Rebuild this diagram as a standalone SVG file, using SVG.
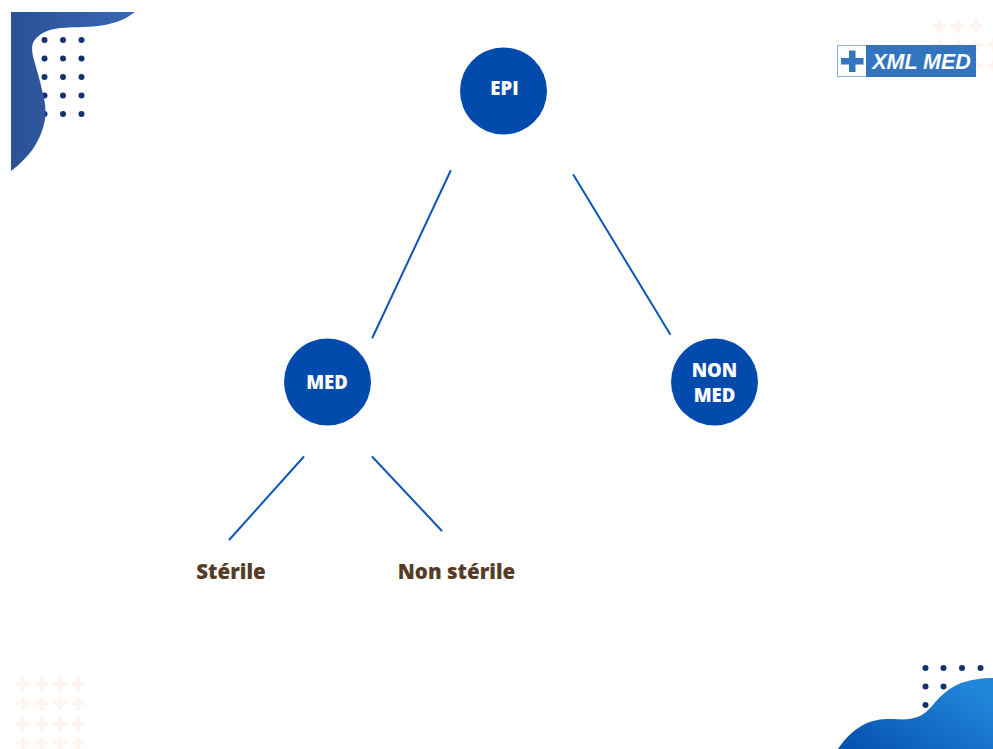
<svg xmlns="http://www.w3.org/2000/svg" width="993" height="749" viewBox="0 0 993 749">
<style>
.node{fill:#034aad}
.nt{font-family:"Open Sans","Noto Sans",sans-serif;font-weight:800;font-size:18.500px;fill:#fff;text-anchor:middle}
.lbl{font-family:"Open Sans","Noto Sans",sans-serif;font-weight:800;font-size:20.500px;fill:#553c27;text-anchor:middle}
.dot{fill:#14306f}
.cross{stroke:#fef3ed;stroke-width:3.500;fill:none}
#connectors line{stroke:#0d55b8;stroke-width:2;stroke-linecap:round}
</style>
<defs>
<linearGradient id="g1" x1="0" y1="0" x2="1" y2="0"><stop offset="0" stop-color="#2b5196"/><stop offset="1" stop-color="#3a68b4"/></linearGradient>
<linearGradient id="g2" x1="0" y1="1" x2="1" y2="0.3"><stop offset="0" stop-color="#0450ae"/><stop offset="1" stop-color="#2186da"/></linearGradient>
<path id="c" d="M-6.500 0H6.500M0-6.500V6.500" class="cross"/>
<circle id="d" r="3" class="dot"/>
</defs>
<rect width="993" height="749" fill="#fff"/>
<g id="deco-top-left">
<use href="#d" x="44.500" y="40"/><use href="#d" x="63" y="40"/><use href="#d" x="81.500" y="40"/>
<use href="#d" x="44.500" y="58.500"/><use href="#d" x="63" y="58.500"/><use href="#d" x="81.500" y="58.500"/>
<use href="#d" x="44.500" y="77"/><use href="#d" x="63" y="77"/><use href="#d" x="81.500" y="77"/>
<use href="#d" x="44.500" y="95.500"/><use href="#d" x="63" y="95.500"/><use href="#d" x="81.500" y="95.500"/>
<use href="#d" x="44.500" y="114"/><use href="#d" x="63" y="114"/><use href="#d" x="81.500" y="114"/>
<path d="M11 12H135C125 20 112 25 93 26.500C80 27.500 66 27 57 28.500C46 30 38 35 34 41C31 46 32 53 34 60C37 71 40 80 42 90C44 97 45.500 104 45.500 112C45.500 125 40 138 33 149C27 157 19 165 11 171Z" fill="url(#g1)"/>
</g>
<g id="deco-top-right">
<use href="#c" x="939" y="26"/><use href="#c" x="957.500" y="26"/><use href="#c" x="976" y="26"/>
<use href="#c" x="939" y="45"/><use href="#c" x="957.500" y="45"/><use href="#c" x="976" y="45"/><use href="#c" x="994" y="45"/>
<use href="#c" x="976" y="65"/><use href="#c" x="994" y="65"/>
</g>
<g id="logo">
<rect x="837.500" y="45.500" width="138" height="31" fill="#fff" stroke="#8fb2dc"/>
<rect x="866" y="45" width="110" height="32" fill="#3274bd"/>
<path d="M849 50.500h6.500v7.500h8v6.500h-8v7.500h-6.500v-7.500h-8v-6.500h8z" fill="#3274bd"/>
<text x="921.500" y="69" font-family="'Liberation Sans',Arial,sans-serif" font-weight="700" font-style="italic" font-size="21.500px" fill="#fff" text-anchor="middle">XML MED</text>
</g>
<g id="deco-bottom-left">
<use href="#c" x="23" y="684"/><use href="#c" x="41.500" y="684"/><use href="#c" x="60" y="684"/><use href="#c" x="78.500" y="684"/>
<use href="#c" x="23" y="703.500"/><use href="#c" x="41.500" y="703.500"/><use href="#c" x="60" y="703.500"/><use href="#c" x="78.500" y="703.500"/>
<use href="#c" x="23" y="723.500"/><use href="#c" x="41.500" y="723.500"/><use href="#c" x="60" y="723.500"/><use href="#c" x="78.500" y="723.500"/>
<use href="#c" x="23" y="743.500"/><use href="#c" x="41.500" y="743.500"/><use href="#c" x="60" y="743.500"/><use href="#c" x="78.500" y="743.500"/>
</g>
<g id="deco-bottom-right">
<use href="#d" x="925.500" y="668"/><use href="#d" x="943.500" y="668"/><use href="#d" x="962" y="668"/><use href="#d" x="980.500" y="668"/>
<use href="#d" x="925.500" y="686.500"/><use href="#d" x="943.500" y="686.500"/><use href="#d" x="962" y="686.500"/>
<use href="#d" x="925.500" y="705"/>
<path d="M838 749C846 737 853 731 863 725C872 720 881 719 890 719C897 719 903 720 909 719C916 718 921 716 926 712C931 708 934 703 939 698C946 691 953 686 961 683C970 680 981 678 993 678V749Z" fill="url(#g2)"/>
</g>
<g id="connectors">
<line x1="450.500" y1="171" x2="372.500" y2="337.500"/>
<line x1="573.500" y1="175" x2="670" y2="334"/>
<line x1="303.500" y1="457" x2="229.500" y2="539.500"/>
<line x1="372.500" y1="457" x2="441.500" y2="530.500"/>
</g>
<g id="node-epi"><circle class="node" cx="503.500" cy="91" r="43.500"/><text class="nt" x="504.500" y="95">EPI</text></g>
<g id="node-med"><circle class="node" cx="327.500" cy="382" r="43.500"/><text class="nt" x="327" y="388.500">MED</text></g>
<g id="node-non-med"><circle class="node" cx="714.500" cy="382" r="43.500"/><text class="nt" x="714.500" y="376.500">NON</text><text class="nt" x="714.500" y="401.500">MED</text></g>
<g id="node-sterile"><text class="lbl" x="231" y="578.500">Stérile</text></g>
<g id="node-non-sterile"><text class="lbl" x="456.500" y="578.500">Non stérile</text></g>
</svg>
